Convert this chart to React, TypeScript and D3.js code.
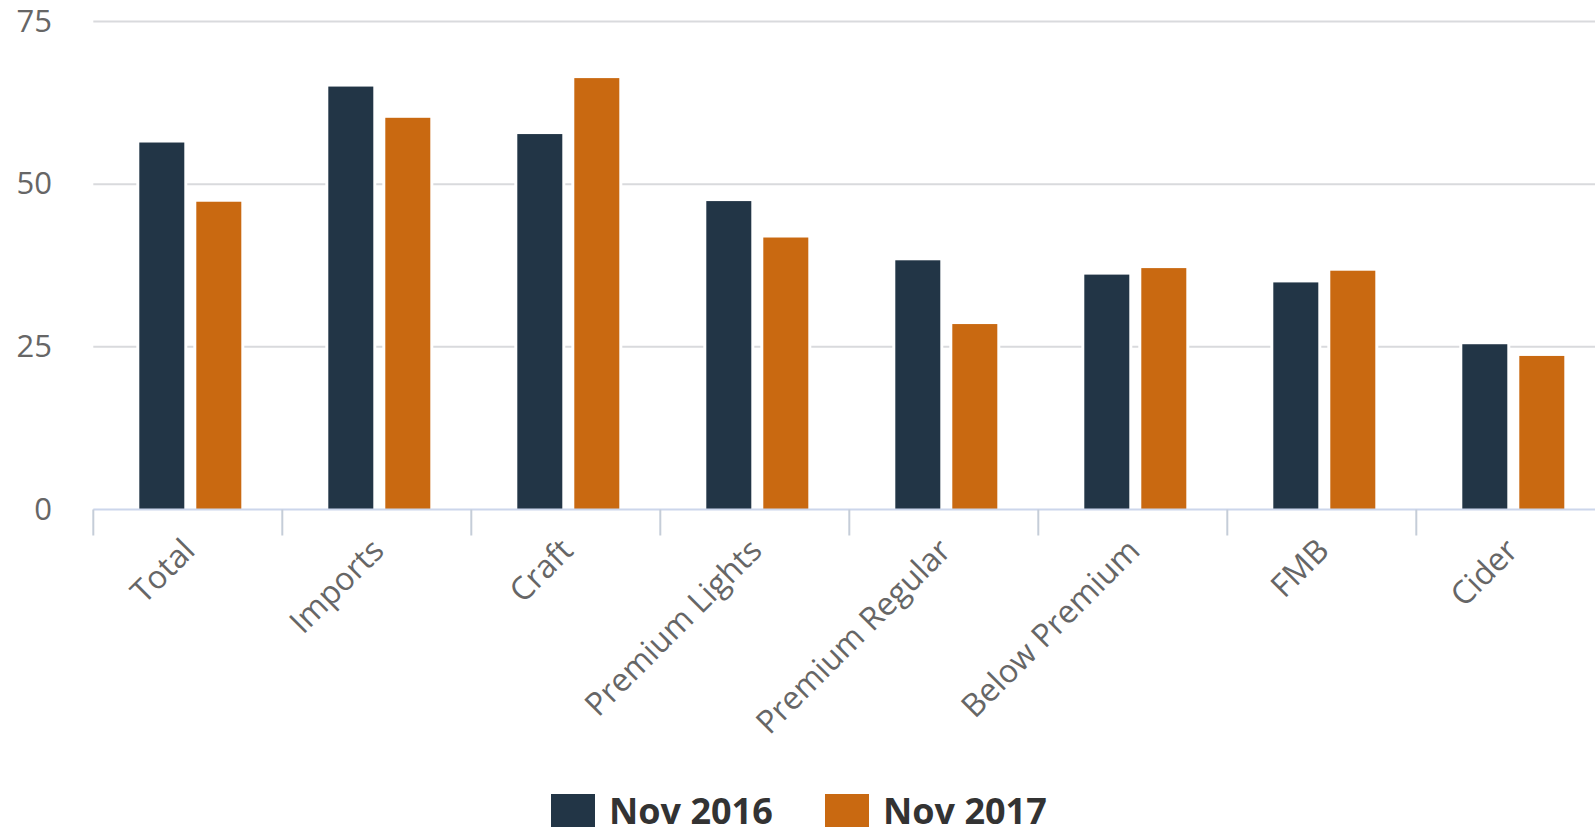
import React from "react";
import * as d3 from "d3";

const categories = ["Total", "Imports", "Craft", "Premium Lights", "Premium Regular", "Below Premium", "FMB", "Cider"];
const seriesNames = ["Nov 2016", "Nov 2017"];
const nov2016 = [56.4, 65.0, 57.7, 47.4, 38.3, 36.1, 34.9, 25.4];
const nov2017 = [47.3, 60.2, 66.3, 41.8, 28.5, 37.1, 36.7, 23.6];
const yTicks = [0, 25, 50, 75];
const colors = ["#223546", "#c96911"];

const W = 1595;
const H = 829;
const plotLeft = 93.3;
const bandStep = 189;
const plotTop = 21.5;
const plotBottom = 509.5;
const FONT = "'Open Sans', 'DejaVu Sans', sans-serif";

export default function App() {
  const x = d3.scaleBand<string>().domain(categories).range([plotLeft, plotLeft + bandStep * categories.length]).padding(0);
  const inner = d3.scaleBand<string>().domain(seriesNames).range([46, 148]).paddingInner(0.2105).paddingOuter(0);
  const y = d3.scaleLinear().domain([0, 75]).range([plotBottom, plotTop]);
  const seriesValues = [nov2016, nov2017];

  return (
    <svg width={W} height={H} style={{ position: "absolute", left: 0, top: 0, background: "#fff" }}>
      <rect x={0} y={0} width={W} height={H} fill="#fff" />
      {yTicks.filter((t) => t > 0).map((t) => (
        <line key={"g" + t} x1={plotLeft} x2={W} y1={y(t)} y2={y(t)} stroke="#d9dadd" strokeWidth={2} />
      ))}
      {yTicks.map((t) => (
        <text key={"yl" + t} x={52} y={y(t) + 10} textAnchor="end" fontFamily={FONT} fontSize={31} fill="#666">
          {t}
        </text>
      ))}
      {categories.map((c, i) => (
        <g key={c}>
          {seriesNames.map((s, j) => {
            const v = seriesValues[j][i];
            const bx = (x(c) as number) + (inner(s) as number);
            return (
              <rect
                key={s}
                x={bx}
                y={y(v)}
                width={inner.bandwidth()}
                height={plotBottom - y(v)}
                fill={colors[j]}
                stroke="#fff"
                strokeWidth={6}
                style={{ paintOrder: "stroke" }}
              />
            );
          })}
        </g>
      ))}
      <line x1={plotLeft} x2={W} y1={plotBottom} y2={plotBottom} stroke="#ccd6eb" strokeWidth={2} />
      {categories.map((c) => (
        <line key={"t" + c} x1={x(c) as number} x2={x(c) as number} y1={plotBottom} y2={plotBottom + 26} stroke="#c5cdd8" strokeWidth={2} />
      ))}
      {categories.map((c) => {
        const cx = (x(c) as number) + x.bandwidth() / 2 + 9;
        const cy = plotBottom + 43;
        return (
          <text key={"xl" + c} transform={`translate(${cx},${cy}) rotate(-45)`} textAnchor="end" fontFamily={FONT} fontSize={32} fill="#666">
            {c}
          </text>
        );
      })}
      {seriesNames.map((s, j) => {
        const lx = [551, 825][j];
        return (
          <g key={"lg" + s}>
            <rect x={lx} y={794} width={44} height={33} fill={colors[j]} />
            <text x={lx + 58} y={824} fontFamily={FONT} fontSize={36} fontWeight="bold" fill="#333">
              {s}
            </text>
          </g>
        );
      })}
    </svg>
  );
}
